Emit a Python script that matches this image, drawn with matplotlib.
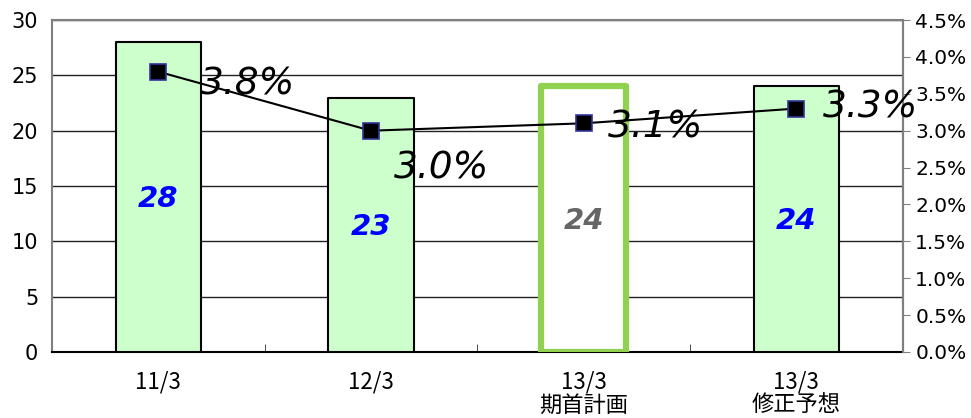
import matplotlib
matplotlib.use('Agg')
import matplotlib.pyplot as plt
from matplotlib.ticker import FuncFormatter

# データ
categories = ['11/3', '12/3', '13/3\n期首計画', '13/3\n修正予想']
bar_values = [28, 23, 24, 24]
rate_values = [3.8, 3.0, 3.1, 3.3]
bar_label_colors = ['#0000FF', '#0000FF', '#666666', '#0000FF']

fig = plt.figure(figsize=(9.71, 4.18), dpi=100)
ax = fig.add_axes([0.0536, 0.158, 0.876, 0.794])
x = list(range(len(categories)))

# 棒グラフ
faces = ['#CCFFCC', '#CCFFCC', 'white', '#CCFFCC']
edges = ['black', 'black', '#92D050', 'black']
widths = [1.5, 1.5, 4.5, 1.5]
for i in x:
    ax.bar(i, bar_values[i], width=0.4, color=faces[i], edgecolor=edges[i],
           linewidth=widths[i], zorder=3, joinstyle='round')
    ax.text(i, bar_values[i] / 2 - 0.2, str(bar_values[i]), ha='center', va='center', fontsize=21,
            fontweight='bold', fontstyle='italic', color=bar_label_colors[i], zorder=5)

ax.set_xlim(-0.5, 3.5)
ax.set_ylim(0, 30)
ax.set_yticks(range(0, 31, 5))
ax.yaxis.grid(True, color='#222222', linewidth=1.0, zorder=0)
ax.set_axisbelow(True)
ax.tick_params(axis='y', length=0, labelsize=15, pad=10)
ax.set_xticks(x)
ax.set_xticklabels(categories, fontfamily=['Noto Sans CJK JP', 'DejaVu Sans'],
                   fontsize=16, linespacing=1.02)
ax.tick_params(axis='x', length=0, pad=13)
ax.set_xticks([0.5, 1.5, 2.5], minor=True)
ax.tick_params(axis='x', which='minor', direction='in', length=6, color='#333333')
for s in ['top', 'left', 'right']:
    ax.spines[s].set_color('#808080')
    ax.spines[s].set_linewidth(1.5)
ax.spines['bottom'].set_color('black')
ax.spines['bottom'].set_linewidth(1.5)

# 折れ線（右軸）
ax2 = ax.twinx()
ax2.plot(x, rate_values, color='black', linewidth=1.5, marker='s', markersize=11,
         markerfacecolor='black', markeredgecolor='#333399', markeredgewidth=1.2, zorder=4)
ax2.set_ylim(0, 4.5)
ax2.set_yticks([i * 0.5 for i in range(10)])
ax2.yaxis.set_major_formatter(FuncFormatter(lambda v, p: f'{v:.1f}%'))
ax2.tick_params(axis='y', direction='out', length=5, color='#808080', labelsize=14.5, pad=4)
for s in ax2.spines.values():
    s.set_visible(False)
ax2.spines['right'].set_visible(True)
ax2.spines['right'].set_color('#808080')
ax2.spines['right'].set_linewidth(1.5)

offsets = [(0.42, -0.18), (0.33, -0.51), (0.34, -0.06), (0.35, 0.02)]
for i in x:
    dx, dy = offsets[i]
    ax2.text(i + dx, rate_values[i] + dy, f'{rate_values[i]:.1f}%', ha='center', va='center',
             fontsize=27, fontstyle='italic', color='black', zorder=6)

fig.savefig('out.png', dpi=100)
